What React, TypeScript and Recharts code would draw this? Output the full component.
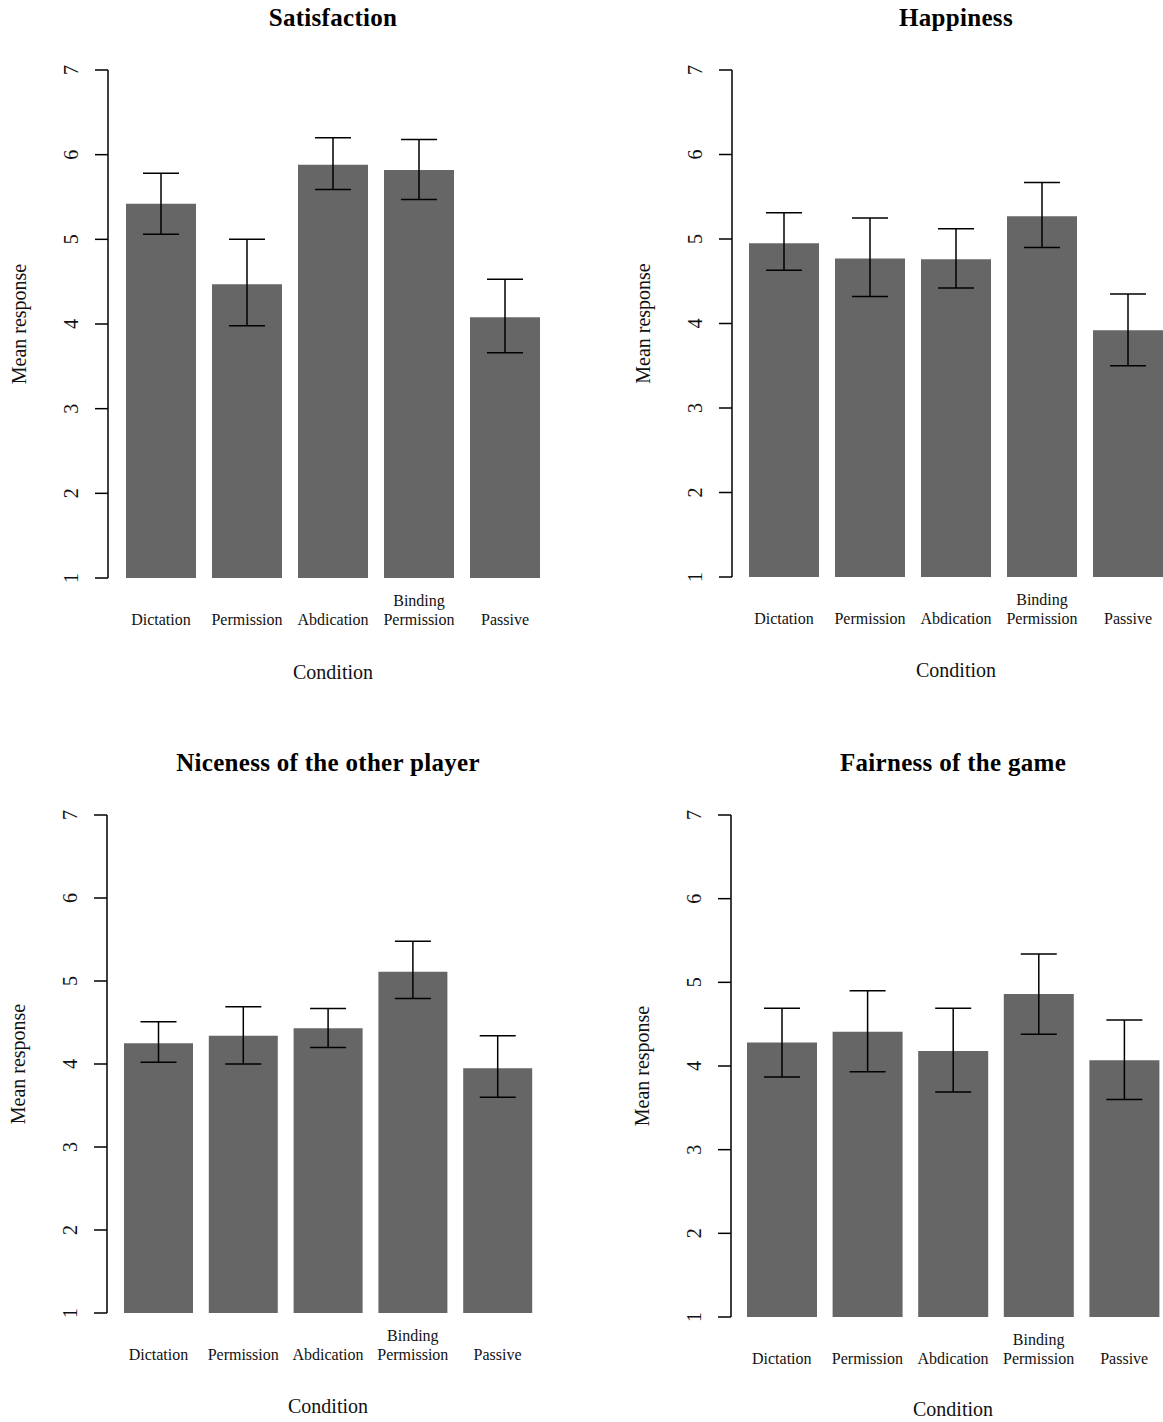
import { BarChart, Bar, XAxis, YAxis, ErrorBar } from "recharts";

const CONDITIONS = ["Dictation", "Permission", "Abdication", "Binding\nPermission", "Passive"];
const Y_TICKS = [1, 2, 3, 4, 5, 6, 7];

// means and the ends of the error bars
const SATISFACTION_MEAN = [5.42, 4.47, 5.88, 5.82, 4.08];
const SATISFACTION_LOW = [5.06, 3.98, 5.59, 5.47, 3.66];
const SATISFACTION_HIGH = [5.78, 5.0, 6.2, 6.18, 4.53];

const HAPPINESS_MEAN = [4.95, 4.77, 4.76, 5.27, 3.92];
const HAPPINESS_LOW = [4.63, 4.32, 4.42, 4.9, 3.5];
const HAPPINESS_HIGH = [5.31, 5.25, 5.12, 5.67, 4.35];

const NICENESS_MEAN = [4.25, 4.34, 4.43, 5.11, 3.95];
const NICENESS_LOW = [4.02, 4.0, 4.2, 4.79, 3.6];
const NICENESS_HIGH = [4.51, 4.69, 4.67, 5.48, 4.34];

const FAIRNESS_MEAN = [4.28, 4.41, 4.18, 4.86, 4.07];
const FAIRNESS_LOW = [3.87, 3.93, 3.69, 4.38, 3.6];
const FAIRNESS_HIGH = [4.69, 4.9, 4.69, 5.34, 4.55];

const FONT = "'Liberation Serif', 'Times New Roman', serif";
const BAR_FILL = "#666666";

type Box = {
  left: number;
  top: number;
  width: number;
  height: number;
  axisW: number;
  padLeft: number;
  marginTop: number;
  marginRight: number;
  xAxisH: number;
  barSize: number;
  condOffset: number;
};

function YTick({ x, y, payload }: any) {
  return (
    <text
      x={x}
      y={y}
      transform={`rotate(-90, ${x}, ${y})`}
      textAnchor="middle"
      fontSize={20}
      fontFamily={FONT}
      fill="#111"
    >
      {payload.value}
    </text>
  );
}

function XTick({ x, y, payload }: any) {
  const lines = String(payload.value).split("\n");
  return (
    <g>
      {lines.map((line, i) => (
        <text
          key={i}
          x={x}
          y={y + 47 - (lines.length - 1 - i) * 19}
          textAnchor="middle"
          fontSize={16}
          fontFamily={FONT}
          fill="#111"
        >
          {line}
        </text>
      ))}
    </g>
  );
}

function Panel({
  title,
  mean,
  low,
  high,
  box,
}: {
  title: string;
  mean: number[];
  low: number[];
  high: number[];
  box: Box;
}) {
  const data = CONDITIONS.map((condition, i) => ({
    condition,
    mean: mean[i],
    err: [mean[i] - low[i], high[i] - mean[i]],
  }));

  const plotW = box.width - box.axisW - box.marginRight;
  const plotH = box.height - box.marginTop - box.xAxisH;
  const bandCenter = box.axisW + box.padLeft + (plotW - box.padLeft) / 2;

  return (
    <div style={{ position: "absolute", left: box.left, top: box.top }}>
      <div
        style={{
          position: "absolute",
          left: bandCenter - 300,
          top: box.marginTop - 65,
          width: 600,
          textAlign: "center",
          fontFamily: FONT,
          fontWeight: "bold",
          fontSize: 25,
          lineHeight: "25px",
          letterSpacing: 0.3,
          color: "#000",
        }}
      >
        {title}
      </div>
      <BarChart
        width={box.width}
        height={box.height}
        data={data}
        margin={{ top: box.marginTop, right: box.marginRight, bottom: 0, left: 0 }}
      >
        <XAxis
          dataKey="condition"
          interval={0}
          axisLine={false}
          tickLine={false}
          tickSize={0}
          tickMargin={0}
          height={box.xAxisH}
          padding={{ left: box.padLeft, right: 0 }}
          tick={<XTick />}
          label={{
            value: "Condition",
            content: () => (
              <text
                x={bandCenter}
                y={box.marginTop + plotH + box.condOffset}
                textAnchor="middle"
                fontSize={20}
                fontFamily={FONT}
                fill="#111"
              >
                Condition
              </text>
            ),
          }}
        />
        <YAxis
          type="number"
          domain={[1, 7]}
          ticks={Y_TICKS}
          width={box.axisW}
          axisLine={{ stroke: "#000", strokeWidth: 1.5 }}
          tickLine={{ stroke: "#000", strokeWidth: 1.5 }}
          tickSize={13}
          tickMargin={17}
          tick={<YTick />}
          label={{
            value: "Mean response",
            content: () => {
              const lx = box.axisW - 82;
              const ly = box.marginTop + plotH / 2;
              return (
                <text
                  x={lx}
                  y={ly}
                  transform={`rotate(-90, ${lx}, ${ly})`}
                  textAnchor="middle"
                  fontSize={20}
                  fontFamily={FONT}
                  fill="#111"
                >
                  Mean response
                </text>
              );
            },
          }}
        />
        <Bar dataKey="mean" fill={BAR_FILL} barSize={box.barSize} isAnimationActive={false}>
          <ErrorBar
            dataKey="err"
            direction="y"
            width={18}
            stroke="#000"
            strokeWidth={1.5}
            isAnimationActive={false}
          />
        </Bar>
      </BarChart>
    </div>
  );
}

const BOX_TL: Box = {
  left: 0, top: 0, width: 580, height: 700, axisW: 108, padLeft: 10,
  marginTop: 70, marginRight: 32, xAxisH: 122, barSize: 70, condOffset: 101,
};
const BOX_TR: Box = {
  left: 580, top: 0, width: 600, height: 700, axisW: 152, padLeft: 9,
  marginTop: 70, marginRight: 9, xAxisH: 123, barSize: 70, condOffset: 100,
};
const BOX_BL: Box = {
  left: 0, top: 740, width: 580, height: 682, axisW: 107, padLeft: 9,
  marginTop: 75, marginRight: 40, xAxisH: 109, barSize: 69, condOffset: 100,
};
const BOX_BR: Box = {
  left: 580, top: 740, width: 600, height: 682, axisW: 151, padLeft: 8,
  marginTop: 75, marginRight: 13, xAxisH: 105, barSize: 70, condOffset: 99,
};

export default function App() {
  return (
    <div
      style={{
        position: "absolute",
        left: 0,
        top: 0,
        width: 1163,
        height: 1422,
        overflow: "hidden",
        background: "#fff",
      }}
    >
      <Panel title="Satisfaction" mean={SATISFACTION_MEAN} low={SATISFACTION_LOW} high={SATISFACTION_HIGH} box={BOX_TL} />
      <Panel title="Happiness" mean={HAPPINESS_MEAN} low={HAPPINESS_LOW} high={HAPPINESS_HIGH} box={BOX_TR} />
      <Panel title="Niceness of the other player" mean={NICENESS_MEAN} low={NICENESS_LOW} high={NICENESS_HIGH} box={BOX_BL} />
      <Panel title="Fairness of the game" mean={FAIRNESS_MEAN} low={FAIRNESS_LOW} high={FAIRNESS_HIGH} box={BOX_BR} />
    </div>
  );
}
